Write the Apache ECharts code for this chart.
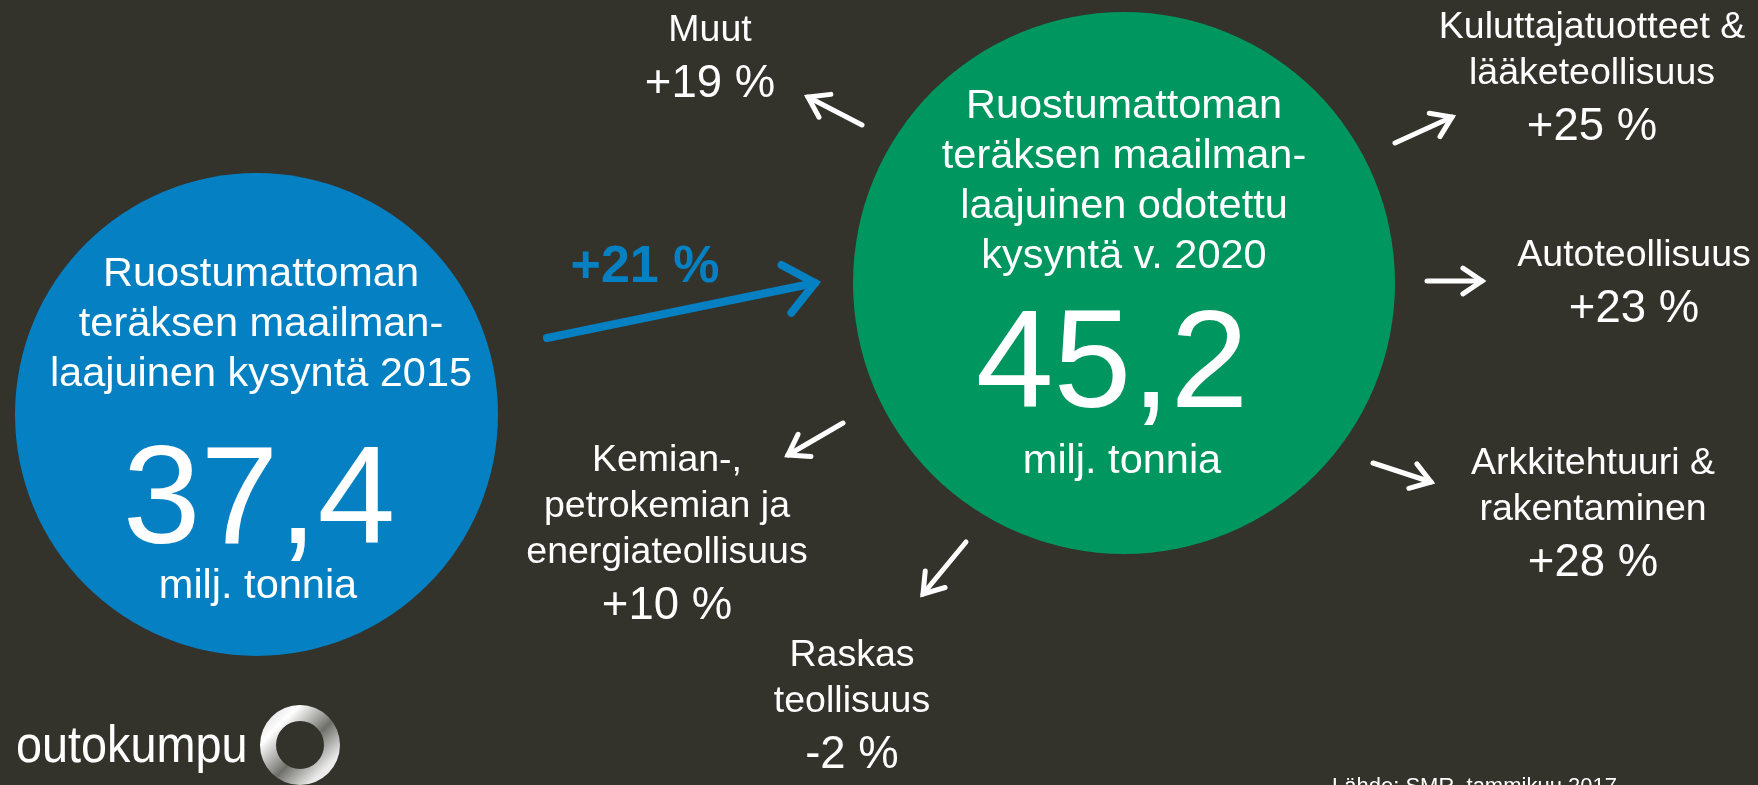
<!DOCTYPE html>
<html><head><meta charset="utf-8">
<script src="https://cdn.jsdelivr.net/npm/echarts@6/dist/echarts.min.js"></script>
<style>html,body{margin:0;padding:0;background:#33332c;overflow:hidden}#c{width:1758px;height:785px;}</style>
</head><body><div id="c"></div>
<script>
// ---------------- data ----------------
const totalTitles = [
  ['Ruostumattoman', 'teräksen maailman-', 'laajuinen kysyntä 2015'],
  ['Ruostumattoman', 'teräksen maailman-', 'laajuinen odotettu', 'kysyntä v. 2020']
];
const totalValues = [37.4, 45.2];
const totalUnit = 'milj. tonnia';
const totalGrowth = 21;
const segmentNames = [
  ['Muut'],
  ['Kuluttajatuotteet &', 'lääketeollisuus'],
  ['Autoteollisuus'],
  ['Arkkitehtuuri &', 'rakentaminen'],
  ['Raskas', 'teollisuus'],
  ['Kemian-,', 'petrokemian ja', 'energiateollisuus']
];
const segmentGrowth = [19, 25, 23, 28, -2, 10];
const sourceText = 'Lähde: SMR, tammikuu 2017';
const brandName = 'outokumpu';

// ---------------- layout (pixel space of hidden axes) ----------------
const W = 1758, H = 785;
const circleLayout = [
  {cx: 256.5, cy: 414.5, r: 241.5, color: '#0580c2', titleX: 261, titleBase: 285, lineGap: 50, numX: 259, numBase: 538, unitX: 258, unitBase: 597},
  {cx: 1124, cy: 283, r: 271, color: '#00965f', titleX: 1124, titleBase: 117, lineGap: 50, numX: 1112, numBase: 402, unitX: 1122, unitBase: 472}
];
const growthLayout = {from: [547, 338], to: [815, 283], labelX: 645, labelBase: 280, color: '#0580c2'};
const arrowLayout = [
  {from: [862, 125], to: [808, 97]},
  {from: [1395, 143], to: [1452, 117]},
  {from: [1427, 281], to: [1482, 281]},
  {from: [1373, 463], to: [1431, 482]},
  {from: [966, 542], to: [923, 594]},
  {from: [843, 423], to: [788, 455]}
];
const labelLayout = [
  {x: 710, base: 40},
  {x: 1592, base: 37},
  {x: 1634, base: 265},
  {x: 1593, base: 473},
  {x: 852, base: 665},
  {x: 667, base: 470}
];

// ---------------- helpers ----------------
const FONT = '"Liberation Sans", Arial, sans-serif';
const BASE_MID = 0.24;
const fmtNum = v => v.toFixed(1).replace('.', ',');
const fmtPct = v => (v > 0 ? '+' : '') + v + ' %';

function textAt(p, str, size, weight, color) {
  return {
    type: 'text', x: p[0], y: p[1] - BASE_MID * size,
    style: {text: str, fill: color || '#ffffff', fontFamily: FONT, fontSize: size,
            fontWeight: weight || 'normal', align: 'center', verticalAlign: 'middle'}
  };
}
function arrowShape(p0, p1, width, headLen, halfAngleDeg, color) {
  const ang = Math.atan2(p0[1] - p1[1], p0[0] - p1[0]);
  const h = halfAngleDeg * Math.PI / 180;
  const a1 = [p1[0] + headLen * Math.cos(ang + h), p1[1] + headLen * Math.sin(ang + h)];
  const a2 = [p1[0] + headLen * Math.cos(ang - h), p1[1] + headLen * Math.sin(ang - h)];
  const st = {stroke: color, lineWidth: width, lineCap: 'round', lineJoin: 'miter', fill: null};
  return [
    {type: 'polyline', shape: {points: [p0, p1]}, style: st},
    {type: 'polyline', shape: {points: [a1, p1, a2]}, style: st}
  ];
}

const chart = echarts.init(document.getElementById('c'), null, {renderer: 'canvas'});

const option = {
  backgroundColor: '#33332c',
  animation: false,
  grid: {left: 0, right: 0, top: 0, bottom: 0},
  xAxis: {type: 'value', min: 0, max: W, show: false},
  yAxis: {type: 'value', min: 0, max: H, inverse: true, show: false},
  graphic: [
    {type: 'text', x: 16, y: 760 - BASE_MID * 52, scaleX: 0.9,
     style: {text: brandName, fill: '#ffffff', fontFamily: FONT,
             fontSize: 52, align: 'left', verticalAlign: 'middle'}},
    {type: 'ring', shape: {cx: 300, cy: 745, r: 40, r0: 24},
     style: {fill: {type: 'linear', x: 0, y: 0, x2: 1, y2: 1, colorStops: [
       {offset: 0, color: '#cfcfcf'}, {offset: 0.25, color: '#ffffff'}, {offset: 0.55, color: '#6f6f6a'},
       {offset: 0.8, color: '#e9e9e9'}, {offset: 1, color: '#ffffff'}]}}},
    {type: 'text', x: 1332, y: 792 - BASE_MID * 22,
     style: {text: sourceText, fill: '#ffffff', fontFamily: FONT, fontSize: 22, align: 'left', verticalAlign: 'middle'}}
  ],
  series: [
    {
      type: 'custom', coordinateSystem: 'cartesian2d', clip: false, silent: true,
      data: totalValues.map((v, i) => [circleLayout[i].cx, circleLayout[i].cy, v]),
      renderItem: function (params, api) {
        const i = params.dataIndex, L = circleLayout[i];
        const c = api.coord([api.value(0), api.value(1)]);
        const r = api.size([L.r, 0])[0];
        const children = [{type: 'circle', shape: {cx: c[0], cy: c[1], r: r}, style: {fill: L.color}}];
        totalTitles[i].forEach((line, k) => children.push(textAt(api.coord([L.titleX, L.titleBase + k * L.lineGap]), line, 41.5)));
        children.push(textAt(api.coord([L.numX, L.numBase]), fmtNum(api.value(2)), 140));
        children.push(textAt(api.coord([L.unitX, L.unitBase]), totalUnit, 41.5));
        return {type: 'group', children: children};
      }
    },
    {
      type: 'custom', coordinateSystem: 'cartesian2d', clip: false, silent: true,
      data: [[growthLayout.from[0], growthLayout.from[1], growthLayout.to[0], growthLayout.to[1], totalGrowth]],
      renderItem: function (params, api) {
        const p0 = api.coord([api.value(0), api.value(1)]);
        const p1 = api.coord([api.value(2), api.value(3)]);
        const children = arrowShape(p0, p1, 8, 38, 40, growthLayout.color);
        children.push(textAt(api.coord([growthLayout.labelX, growthLayout.labelBase]), fmtPct(api.value(4)), 52, 'bold', growthLayout.color));
        return {type: 'group', children: children};
      }
    },
    {
      type: 'custom', coordinateSystem: 'cartesian2d', clip: false, silent: true,
      data: segmentGrowth.map((g, i) => [arrowLayout[i].from[0], arrowLayout[i].from[1], arrowLayout[i].to[0], arrowLayout[i].to[1], g]),
      renderItem: function (params, api) {
        const i = params.dataIndex, L = labelLayout[i];
        const p0 = api.coord([api.value(0), api.value(1)]);
        const p1 = api.coord([api.value(2), api.value(3)]);
        const children = arrowShape(p0, p1, 5, 23, 34, '#ffffff');
        const names = segmentNames[i];
        names.forEach((line, k) => children.push(textAt(api.coord([L.x, L.base + k * 46]), line, 37.5)));
        const pctBase = L.base + (names.length - 1) * 46 + 55;
        children.push(textAt(api.coord([L.x, pctBase]), fmtPct(api.value(4)), 45.5));
        return {type: 'group', children: children};
      }
    }
  ]
};
chart.setOption(option);
</script>
</body></html>
